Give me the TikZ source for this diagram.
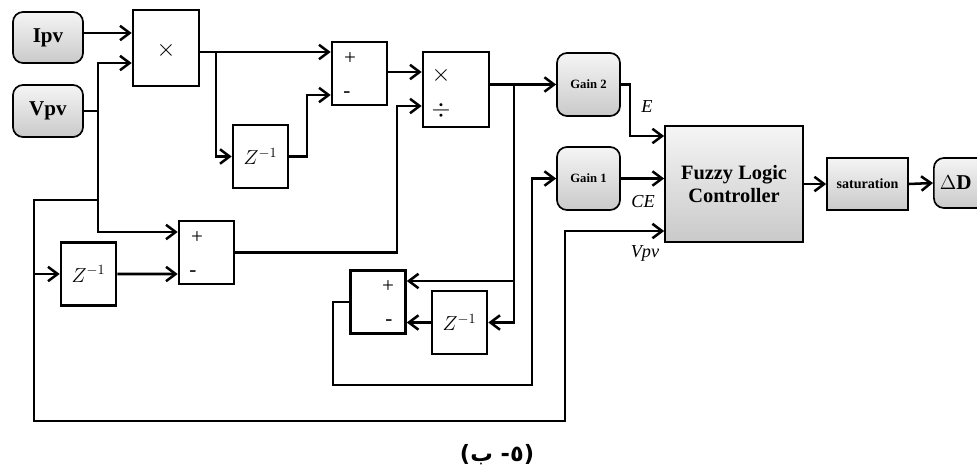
\documentclass[tikz,border=0pt]{standalone}
\usepackage{fontspec}
\setmainfont{Liberation Serif}
\newfontfamily\arabicfont[Script=Arabic]{DejaVu Sans}
\TeXXeTstate=1
\usetikzlibrary{arrows.meta}

\begin{document}
\begin{tikzpicture}[x=0.025cm, y=-0.025cm, >={Straight Barb[length=2.4mm,width=3.6mm]},
  blk/.style={draw, line width=1.8pt, fill=white, minimum width=1.375cm, minimum height=1.575cm, inner sep=0pt},
  gry/.style={draw, line width=1.2pt, top color=gray!8, bottom color=gray!42, inner sep=0pt},
  src/.style={gry, rounded corners=2.5mm},
  wire/.style={line width=1.8pt},
  sgn/.style={font=\fontsize{15}{17}\selectfont, inner sep=0pt},
  zdel/.style={font=\fontsize{14}{16}\selectfont},
  lbl/.style={font=\fontsize{13}{15}\selectfont\itshape, inner sep=0pt}]
  \useasboundingbox (0,0) rectangle (977,468);

  % sources
  \node[src, minimum width=1.75cm, minimum height=1.275cm, font=\fontsize{15}{18}\selectfont\bfseries] (ipv) at (48,37.5) {Ipv};
  \node[src, minimum width=1.75cm, minimum height=1.3cm, font=\fontsize{15}{18}\selectfont\bfseries] (vpv) at (48,111) {Vpv};

  % product and differences
  \node[blk, minimum width=1.65cm, minimum height=1.9cm] (mul) at (166,48) {};
  \node[sgn, font=\LARGE] (mulx) at (166,50) {$\times$};
  \node[blk, zdel] (z1) at (260.5,156.5) {$Z^{-1}$};
  \node[blk] (sub1) at (359.5,73.5) {};
  \node[sgn] (s1p) at (350,59) {+};
  \node[sgn] (s1m) at (347,95) {-};
  \node[blk, minimum width=1.65cm, minimum height=1.875cm] (div) at (456,89.5) {};
  \node[sgn, font=\LARGE] (dvx) at (441,75) {$\times$};
  \node[sgn, font=\LARGE] (dvd) at (441,110) {$\div$};

  \node[blk, zdel] (z3) at (88.5,274) {$Z^{-1}$};
  \node[blk] (sub2) at (206.5,252.5) {};
  \node[sgn] (s2p) at (197,238) {+};
  \node[sgn] (s2m) at (193,274) {-};

  \node[blk] (sub3) at (378,302) {};
  \node[sgn] (s3p) at (388,287) {+};
  \node[sgn] (s3m) at (389,323) {-};
  \node[blk, zdel] (z4) at (459.5,322.5) {$Z^{-1}$};

  % gains and controller
  \node[src, minimum width=1.575cm, minimum height=1.575cm, font=\fontsize{9}{10}\selectfont\bfseries] (gain2) at (588.5,84.5) {Gain 2};
  \node[src, minimum width=1.575cm, minimum height=1.575cm, font=\fontsize{9}{10}\selectfont\bfseries] (gain1) at (588.5,178.5) {Gain 1};
  \node[gry, minimum width=3.45cm, minimum height=2.9cm, align=center, font=\fontsize{14.5}{17}\selectfont\bfseries] (flc) at (734,184) {Fuzzy Logic\\Controller};
  \node[gry, minimum width=2.025cm, minimum height=1.3cm, font=\fontsize{10}{12}\selectfont\bfseries] (sat) at (867.5,184) {saturation};
  \node[src, minimum width=1.4cm, minimum height=1.25cm, font=\fontsize{15}{17}\selectfont\bfseries, anchor=west, text width=1.1cm] (dd) at (933,183) {$\Delta$D};

  % ports
  \coordinate (mul-a) at ([yshift=.375cm]mul.west);
  \coordinate (mul-b) at ([yshift=-.375cm]mul.west);
  \coordinate (sub1-a) at ([yshift=.5375cm]sub1.west);
  \coordinate (sub1-b) at ([yshift=-.5375cm]sub1.west);
  \coordinate (div-a) at ([yshift=.4375cm]div.west);
  \coordinate (div-b) at ([yshift=-.4125cm]div.west);
  \coordinate (sub2-a) at ([yshift=.5125cm]sub2.west);
  \coordinate (sub2-b) at ([yshift=-.5375cm]sub2.west);
  \coordinate (sub3-a) at ([yshift=.525cm]sub3.east);
  \coordinate (sub3-b) at ([yshift=-.525cm]sub3.east);
  \coordinate (flc-a) at ([yshift=1.2cm]flc.west);
  \coordinate (flc-c) at ([yshift=-1.175cm]flc.west);

  % bends
  \coordinate (jv) at (98,200);
  \coordinate (jl) at (34,200);
  \coordinate (bl) at (34,421);
  \coordinate (br) at (565,421);
  \coordinate (j1) at (216,0);
  \coordinate (k1) at (307,0);
  \coordinate (k2) at (397,0);
  \coordinate (j2) at (514,0);
  \coordinate (k3) at (333,385);
  \coordinate (k4) at (532,385);
  \coordinate (k5) at (630,110);
  \node[lbl] (le) at (647,107) {E};
  \node[lbl] (lce) at (643,202) {CE};
  \node[lbl] (lvpv) at (645,253) {Vpv};

  % connections
  \draw[wire,->] (ipv.east |- mul-a) -- (mul-a);
  \draw[wire] (vpv.east) -- (vpv.east -| jv);
  \draw[wire,->] (jv) |- (mul-b);
  \draw[wire,->] (jv) |- (sub2-a);
  \draw[wire,->] (jv) -- (jl) -- (bl) -- (br) |- (flc-c);
  \draw[wire,->] (jl |- z3.west) -- (z3.west);
  \draw[wire,->] (z3.east) -- (sub2-b);
  \draw[wire,->] (sub2.east) -| (k2 |- div-b) -- (div-b);
  \draw[wire,->] (mul.east |- sub1-a) -- (sub1-a);
  \draw[wire,->] (j1 |- sub1-a) |- (z1.west);
  \draw[wire,->] (z1.east) -| (k1 |- sub1-b) -- (sub1-b);
  \draw[wire,->] (sub1.east |- div-a) -- (div-a);
  \draw[wire,->] (div.east |- gain2.west) -- (gain2.west);
  \draw[wire,->] (j2 |- gain2.west) |- (z4.east);
  \draw[wire,->] (j2 |- sub3-a) -- (sub3-a);
  \draw[wire,->] (z4.west) -- (z4.west -| sub3.east);
  \draw[wire,->] (sub3.west) -| (k3) -- (k4) |- (gain1.west);
  \draw[wire,->] (gain2.east) -| (k5) |- (flc-a);
  \draw[wire,->] (gain1.east) -- (gain1.east -| flc.west);
  \draw[wire,->] (flc.east) -- (sat.west);
  \draw[wire,->] (sat.east) -- (dd.west);

  \node[font=\fontsize{16}{19}\selectfont] (cap) at (497,455) {\arabicfont\bfseries\beginR(٥- ب)\endR};
\end{tikzpicture}
\end{document}
